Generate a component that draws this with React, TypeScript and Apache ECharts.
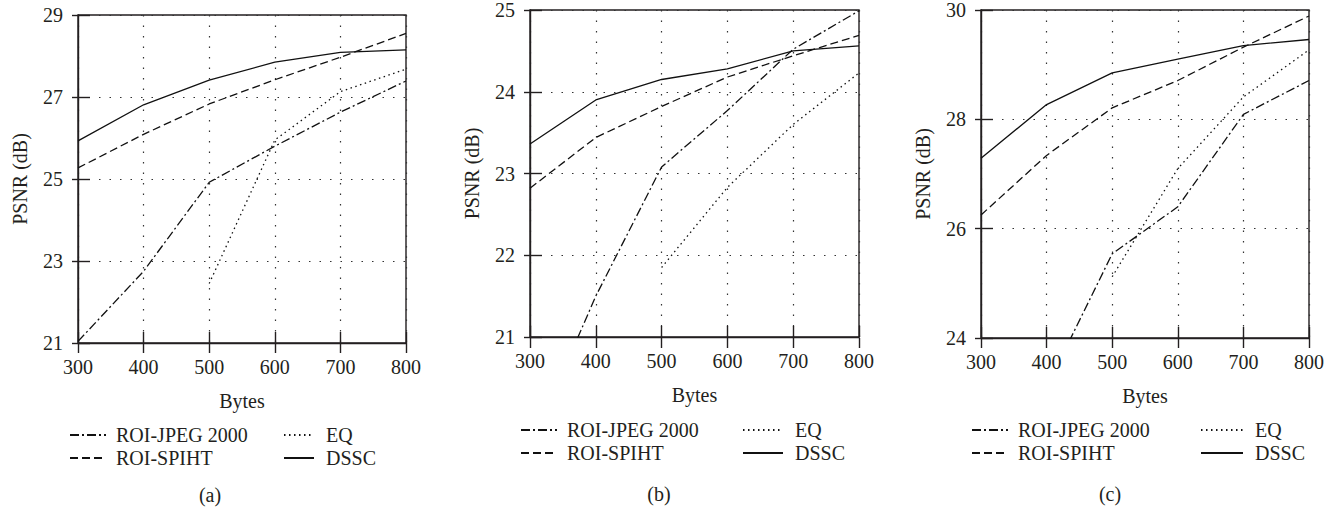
import React, { useEffect, useRef } from 'react';
import * as echarts from 'echarts';

// ---------- data ----------
const bytes = [300, 400, 500, 600, 700, 800];
const seriesNames = ['ROI-JPEG 2000', 'ROI-SPIHT', 'EQ', 'DSSC'];

// panel (a)
const jpegA = [21.04, 22.75, 24.92, 25.8, 26.63, 27.39];
const spihtA = [25.27, 26.09, 26.83, 27.42, 27.97, 28.55];
const eqA = [null, null, 22.45, 25.95, 27.13, 27.68];
const dsscA = [25.93, 26.81, 27.41, 27.85, 28.09, 28.15];

// panel (b)
const jpegB = [19.65, 21.5, 23.08, 23.77, 24.52, 24.99];
const spihtB = [22.82, 23.44, 23.82, 24.18, 24.44, 24.69];
const eqB = [null, null, 21.85, 22.83, 23.6, 24.23];
const dsscB = [23.36, 23.9, 24.15, 24.28, 24.5, 24.56];

// panel (c)
const jpegC = [null, 23.1, 25.54, 26.4, 28.09, 28.71];
const spihtC = [26.25, 27.34, 28.21, 28.71, 29.32, 29.89];
const eqC = [null, null, 25.12, 27.1, 28.41, 29.27];
const dsscC = [27.29, 28.27, 28.85, 29.1, 29.35, 29.46];

const panelValues = [
  [jpegA, spihtA, eqA, dsscA],
  [jpegB, spihtB, eqB, dsscB],
  [jpegC, spihtC, eqC, dsscC],
];
const panelLabels = ['(a)', '(b)', '(c)'];
const yMins = [21, 21, 24];
const yMaxs = [29, 25, 30];
const yIntervals = [2, 1, 2];
const xMin = 300;
const xMax = 800;
const xInterval = 100;

// ---------- styling ----------
const FONT = '"Liberation Serif", "Times New Roman", serif';
const INK = '#231f20';
const FS = 20;
const lineTypes: any = {
  'ROI-JPEG 2000': [9, 3, 2, 3],
  'ROI-SPIHT': [8, 4],
  EQ: [1.5, 3.5],
  DSSC: 'solid',
};

const grids = [
  { left: 78, top: 15, width: 328, height: 328 },
  { left: 530, top: 9, width: 329, height: 328 },
  { left: 981, top: 10, width: 328, height: 328 },
];
const legendPos = [
  { c1: 69, c2: 283, w2: 30, top: 425, cap: 210, capY: 495 },
  { c1: 520, c2: 742, w2: 40, top: 420, cap: 659, capY: 494 },
  { c1: 971, c2: 1200, w2: 42, top: 420, cap: 1110, capY: 494 },
];

function buildOption() {
  const xAxis: any[] = [];
  const yAxis: any[] = [];
  const series: any[] = [];
  const legend: any[] = [];
  const graphic: any[] = [];
  const textStyle = { fontFamily: FONT, fontSize: FS, color: INK };

  grids.forEach((g, i) => {
    // main x axis (bottom, inner ticks)
    xAxis.push({
      gridIndex: i,
      type: 'value',
      position: 'bottom',
      min: xMin,
      max: xMax,
      interval: xInterval,
      axisLine: { show: true, onZero: false, lineStyle: { color: INK, width: 1.4 } },
      axisTick: { show: true, inside: true, length: 11, lineStyle: { color: INK, width: 1.4 } },
      axisLabel: { ...textStyle, margin: 14 },
      splitLine: { show: true, lineStyle: { type: [1.5, 9], color: '#333', width: 1.2 } },
      name: 'Bytes',
      nameLocation: 'middle',
      nameGap: 48,
      nameTextStyle: textStyle,
    });
    // aux x axis moved down to the bottom, for the outer half of the ticks
    xAxis.push({
      gridIndex: i,
      type: 'value',
      position: 'top',
      offset: -g.height,
      min: xMin,
      max: xMax,
      interval: xInterval,
      axisLine: { show: false },
      axisTick: { show: true, inside: true, length: 10, lineStyle: { color: INK, width: 1.4 } },
      axisLabel: { show: false },
      splitLine: { show: false },
    });
    yAxis.push({
      gridIndex: i,
      type: 'value',
      position: 'left',
      min: yMins[i],
      max: yMaxs[i],
      interval: yIntervals[i],
      axisLine: { show: true, onZero: false, lineStyle: { color: INK, width: 1.4 } },
      axisTick: { show: true, inside: true, length: 12, lineStyle: { color: INK, width: 1.4 } },
      axisLabel: { ...textStyle, margin: 15 },
      splitLine: { show: true, lineStyle: { type: [1.5, 9], color: '#333', width: 1.2 } },
      name: 'PSNR (dB)',
      nameLocation: 'middle',
      nameGap: 48,
      nameTextStyle: textStyle,
    });
    yAxis.push({
      gridIndex: i,
      type: 'value',
      position: 'right',
      offset: -g.width,
      min: yMins[i],
      max: yMaxs[i],
      interval: yIntervals[i],
      axisLine: { show: false },
      axisTick: { show: true, inside: true, length: 6, lineStyle: { color: INK, width: 1.4 } },
      axisLabel: { show: false },
      splitLine: { show: false },
    });

    seriesNames.forEach((name, k) => {
      series.push({
        name,
        type: 'line',
        xAxisIndex: 2 * i,
        yAxisIndex: 2 * i,
        symbol: 'none',
        clip: true,
        connectNulls: false,
        lineStyle: { color: '#111', width: 1.3, type: lineTypes[name] },
        itemStyle: { color: '#111' },
        data: bytes.map((b, j) => [b, panelValues[i][k][j]]),
      });
    });

    const lp = legendPos[i];
    const legendBase = {
      orient: 'vertical',
      top: lp.top,
      padding: 0,
      itemHeight: 12,
      itemGap: 3,
      selectedMode: false,
      itemStyle: { opacity: 0 },
    };
    legend.push({
      ...legendBase,
      left: lp.c1,
      itemWidth: 36,
      data: ['ROI-JPEG 2000', 'ROI-SPIHT'],
      textStyle: { ...textStyle, lineHeight: 20, padding: [0, 0, 0, 5] },
    });
    legend.push({
      ...legendBase,
      left: lp.c2,
      itemWidth: lp.w2,
      data: ['EQ', 'DSSC'],
      textStyle: { ...textStyle, lineHeight: 20, padding: [0, 0, 0, 7] },
    });

    graphic.push({
      type: 'text',
      x: lp.cap,
      y: lp.capY,
      style: {
        text: panelLabels[i],
        fill: INK,
        font: `${FS}px ${FONT}`,
        textAlign: 'center',
        textVerticalAlign: 'middle',
      },
    });
  });

  return {
    animation: false,
    backgroundColor: '#ffffff',
    grid: grids.map((g) => ({
      ...g,
      show: true,
      borderColor: INK,
      borderWidth: 1.4,
      backgroundColor: 'transparent',
    })),
    xAxis,
    yAxis,
    series,
    legend,
    graphic,
  };
}

export default function App() {
  const ref = useRef<HTMLDivElement>(null);
  useEffect(() => {
    if (!ref.current) return;
    const chart = echarts.init(ref.current, undefined, { renderer: 'svg' });
    chart.setOption(buildOption() as any);
    return () => chart.dispose();
  }, []);
  return (
    <div
      ref={ref}
      style={{ position: 'fixed', left: 0, top: 0, width: 1338, height: 509, background: '#fff' }}
    />
  );
}
